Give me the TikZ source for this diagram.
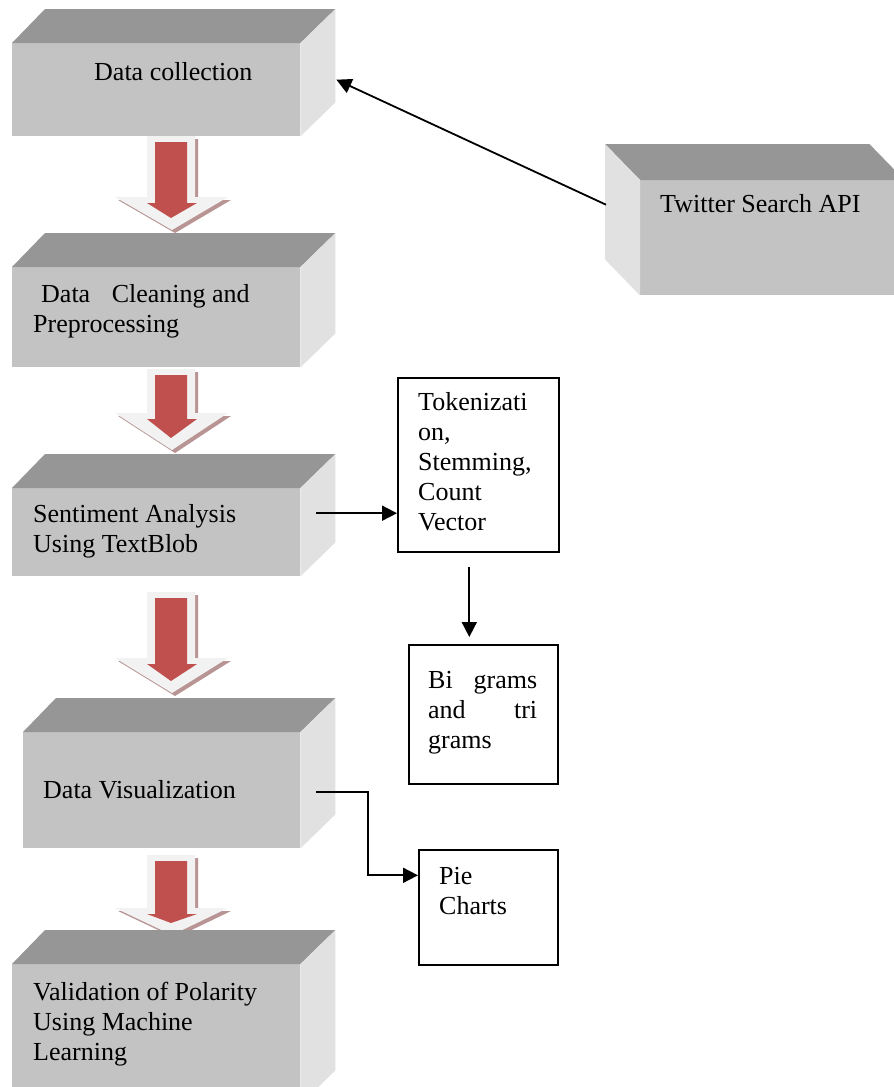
\documentclass[tikz,border=0pt]{standalone}
\usepackage{fontspec}
\setmainfont{Liberation Serif}
\usetikzlibrary{calc,arrows.meta}

\definecolor{frontgray}{HTML}{C3C3C3}
\definecolor{topgray}{HTML}{969696}
\definecolor{sidegray}{HTML}{E1E1E1}
\definecolor{arrowred}{HTML}{C0504D}
\definecolor{arrowlight}{HTML}{F2F2F2}
\definecolor{arrowshadow}{HTML}{B89494}

\tikzset{
  block/.style={fill=frontgray, anchor=north west, inner sep=0pt},
  note/.style={draw, line width=1.6pt, anchor=north west, inner sep=0pt},
  boxtext/.style={anchor=north west, inner sep=0pt, align=left},
  link/.style={line width=1.8pt, -{Triangle[length=15pt,width=15pt]}}
}

% top and right side of a grey block
\newcommand{\blockfaces}[1]{%
  \fill[topgray] (#1.north west) -- ++(33,-34) -- ($(#1.north east)+(35,-34)$) -- (#1.north east) -- cycle;
  \fill[sidegray] (#1.north east) -- ++(35,-34) -- ($(#1.south east)+(35,-34)$) -- (#1.south east) -- cycle;}

% big down arrow: shaft top, head base, tip
\newcommand{\bigdown}[3]{%
  \fill[arrowshadow, shift={(3,3)}] (147,#1) -- (195,#1) -- (195,#2) -- (228,#2) -- (172,#3) -- (115,#2) -- (147,#2) -- cycle;
  \fill[arrowlight] (147,#1) -- (195,#1) -- (195,#2) -- (228,#2) -- (172,#3) -- (115,#2) -- (147,#2) -- cycle;
  \fill[arrowred] (155,{#1+6}) -- (187,{#1+6}) -- (187,{#2+6}) -- (197,{#2+6}) -- (171,{#3-12}) -- (147,{#2+6}) -- (155,{#2+6}) -- cycle;}

\begin{document}
\begin{tikzpicture}[x=1pt, y=-1pt, font=\fontsize{26}{30}\selectfont]
  \clip (0,0) rectangle (894,1087);
  \fill[white] (0,0) rectangle (894,1087);

  \bigdown{136}{197}{230}
  \bigdown{369}{413}{450}
  \bigdown{592}{658}{693}
  \bigdown{855}{908}{935}

  % grey blocks
  \node[block, minimum width=288pt, minimum height=93pt] (collect) at (12,43) {};
  \node[block, minimum width=288pt, minimum height=100pt] (clean) at (12,267) {};
  \node[block, minimum width=288pt, minimum height=88pt] (senti) at (12,488) {};
  \node[block, minimum width=277pt, minimum height=116pt] (visual) at (23,732) {};
  \node[block, minimum width=288pt, minimum height=140pt] (valid) at (12,964) {};
  \node[block, minimum width=264pt, minimum height=115pt] (twit) at (640,180) {};
  \blockfaces{collect}
  \blockfaces{clean}
  \blockfaces{senti}
  \blockfaces{visual}
  \blockfaces{valid}
  \fill[topgray] (twit.north west) -- ++(-35,-36) -- ($(twit.north east)+(-35,-36)$) -- (twit.north east) -- cycle;
  \fill[sidegray] (twit.north west) -- ++(-35,-36) -- ($(twit.south west)+(-35,-36)$) -- (twit.south west) -- cycle;

  \node[boxtext] (collect-t) at (94,62) {Data collection};
  \node[boxtext] (clean-t) at (33,284) {\hspace*{8pt}Data\hspace{15pt} Cleaning and\\Preprocessing};
  \node[boxtext] (senti-t) at (33,504) {Sentiment Analysis\\Using TextBlob};
  \node[boxtext] (visual-t) at (43,780) {Data Visualization};
  \node[boxtext] (valid-t) at (33,982) {Validation of Polarity\\Using Machine\\Learning};
  \node[boxtext] (twit-t) at (660,194) {Twitter Search API};

  % white boxes
  \node[note, minimum width=161pt, minimum height=174pt] (tok) at (397,377) {};
  \node[note, minimum width=149pt, minimum height=139pt] (bigram) at (408,644) {};
  \node[note, minimum width=139pt, minimum height=115pt] (pie) at (418,849) {};

  \node[boxtext] (tok-t) at (418,392) {Tokenizati\\on,\\Stemming,\\Count\\Vector};
  \node[boxtext, text width=109pt] (bigram-t) at (428,671) {Bi\hfill grams\\and\hfill tri\\grams};
  \node[boxtext] (pie-t) at (439,867) {Pie\\Charts};

  % connectors
  \draw[link] ([xshift=-34pt,yshift=33pt]twit.west) -- ([xshift=36pt,yshift=10pt]collect.east);
  \draw[link] ([xshift=16pt,yshift=19pt]senti.east) coordinate (s1) -- (s1 -| tok.west);
  \draw[link] ([xshift=-9pt,yshift=-14pt]tok.south) -- ([xshift=-14pt,yshift=7pt]bigram.north);
  \draw[link] ([xshift=16pt,yshift=-2pt]visual.east) -| ([xshift=-50pt,yshift=32pt]pie.west) -- ([yshift=32pt]pie.west);
\end{tikzpicture}
\end{document}
